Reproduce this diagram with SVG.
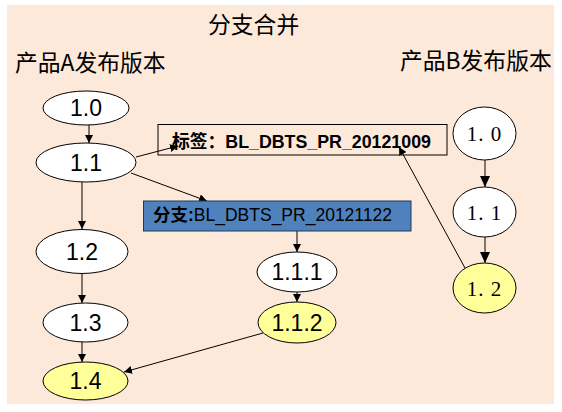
<svg xmlns="http://www.w3.org/2000/svg" width="562" height="412" viewBox="0 0 562 412">
<defs>
<style>
.bg{fill:#FDE9D9}
.n{fill:#FFFFFF;stroke:#000;stroke-width:1}
.y{fill:#FFFF99;stroke:#000;stroke-width:1}
.t{font-family:"Liberation Sans","Noto Sans CJK SC",sans-serif;font-size:23px;fill:#000;text-anchor:middle}
.s{font-family:"Liberation Serif","Noto Serif CJK SC",serif;font-size:21px;fill:#000;text-anchor:middle}
.h{font-family:"Noto Sans CJK SC","Liberation Sans",sans-serif;font-size:22.8px;fill:#000}
.c{stroke:#000;stroke-width:1;fill:none}
</style>
<marker id="a" markerWidth="8" markerHeight="8" refX="8" refY="4" orient="auto" markerUnits="userSpaceOnUse"><path d="M0,0 L8,4 L0,8 Z" fill="#000"/></marker>
<marker id="b" markerWidth="11" markerHeight="10" refX="11" refY="5" orient="auto" markerUnits="userSpaceOnUse"><path d="M0,0 L11,5 L0,10 Z" fill="#000"/></marker>
</defs>
<rect class="bg" x="7" y="5" width="547" height="399"/>
<text class="h" x="208" y="33" font-size="22.5">分支合并</text>
<text class="h" x="15" y="71">产品A发布版本</text>
<text class="h" x="400" y="69">产品B发布版本</text>
<g id="connectors">
<line class="c" x1="89" y1="125" x2="89" y2="143" marker-end="url(#a)"/>
<line class="c" x1="136" y1="157" x2="178" y2="146" marker-end="url(#a)"/>
<line class="c" x1="131" y1="173" x2="207" y2="201" marker-end="url(#a)"/>
<line class="c" x1="82" y1="182" x2="82" y2="229" marker-end="url(#a)"/>
<line class="c" x1="82" y1="274" x2="82" y2="303" marker-end="url(#a)"/>
<line class="c" x1="82" y1="342" x2="82" y2="362" marker-end="url(#a)"/>
<line class="c" x1="297" y1="231" x2="297" y2="252" marker-end="url(#a)"/>
<line class="c" x1="297" y1="292" x2="297" y2="302" marker-end="url(#a)"/>
<line class="c" x1="263" y1="333" x2="124" y2="372" marker-end="url(#a)"/>
<line class="c" x1="485" y1="160" x2="485" y2="187" marker-end="url(#b)"/>
<line class="c" x1="485" y1="237" x2="485" y2="263" marker-end="url(#b)"/>
<line class="c" x1="465" y1="268" x2="399" y2="147" marker-end="url(#a)"/>
</g>
<g id="tag">
<rect x="158" y="124.5" width="289" height="30.5" fill="none" stroke="#000" stroke-width="1"/>
<text x="172" y="148" font-family="Liberation Sans,Noto Sans CJK SC,sans-serif" font-size="17.8" font-weight="bold" fill="#000">标签：BL_DBTS_PR_20121009</text>
</g>
<g id="branch">
<rect x="143.5" y="201" width="267.5" height="30" fill="#4F81BD" stroke="#1F3A5F" stroke-width="1"/>
<text x="153" y="221" font-family="Liberation Sans,Noto Sans CJK SC,sans-serif" font-size="17.5" fill="#000"><tspan font-weight="bold">分支:</tspan>BL_DBTS_PR_20121122</text>
</g>
<g id="a10"><ellipse class="n" cx="86" cy="108" rx="43" ry="17"/><text class="t" x="86" y="116">1.0</text></g>
<g id="a11"><ellipse class="n" cx="86" cy="162.5" rx="50" ry="19.5"/><text class="t" x="86" y="170.5">1.1</text></g>
<g id="a12"><ellipse class="n" cx="82" cy="251.5" rx="46" ry="22"/><text class="t" x="82" y="259.5">1.2</text></g>
<g id="a13"><ellipse class="n" cx="85.5" cy="322.5" rx="42.5" ry="19.5"/><text class="t" x="85.5" y="330.5">1.3</text></g>
<g id="a14"><ellipse class="y" cx="85.5" cy="381" rx="42.5" ry="19"/><text class="t" x="85.5" y="389">1.4</text></g>
<g id="a111"><ellipse class="n" cx="297" cy="272" rx="40" ry="20"/><text class="t" x="297" y="280">1.1.1</text></g>
<g id="a112"><ellipse class="y" cx="297" cy="322.5" rx="39" ry="20.5"/><text class="t" x="297" y="330.5">1.1.2</text></g>
<g id="b10"><ellipse class="n" cx="484.5" cy="133.5" rx="31.5" ry="26.5"/><text class="s" x="484.5" y="141" letter-spacing="1">1. 0</text></g>
<g id="b11"><ellipse class="n" cx="484.5" cy="212" rx="31.5" ry="25"/><text class="s" x="484.5" y="219.5" letter-spacing="1">1. 1</text></g>
<g id="b12"><ellipse class="y" cx="484.5" cy="288" rx="31.5" ry="25"/><text class="s" x="484.5" y="295.5" letter-spacing="1">1. 2</text></g>
</svg>
